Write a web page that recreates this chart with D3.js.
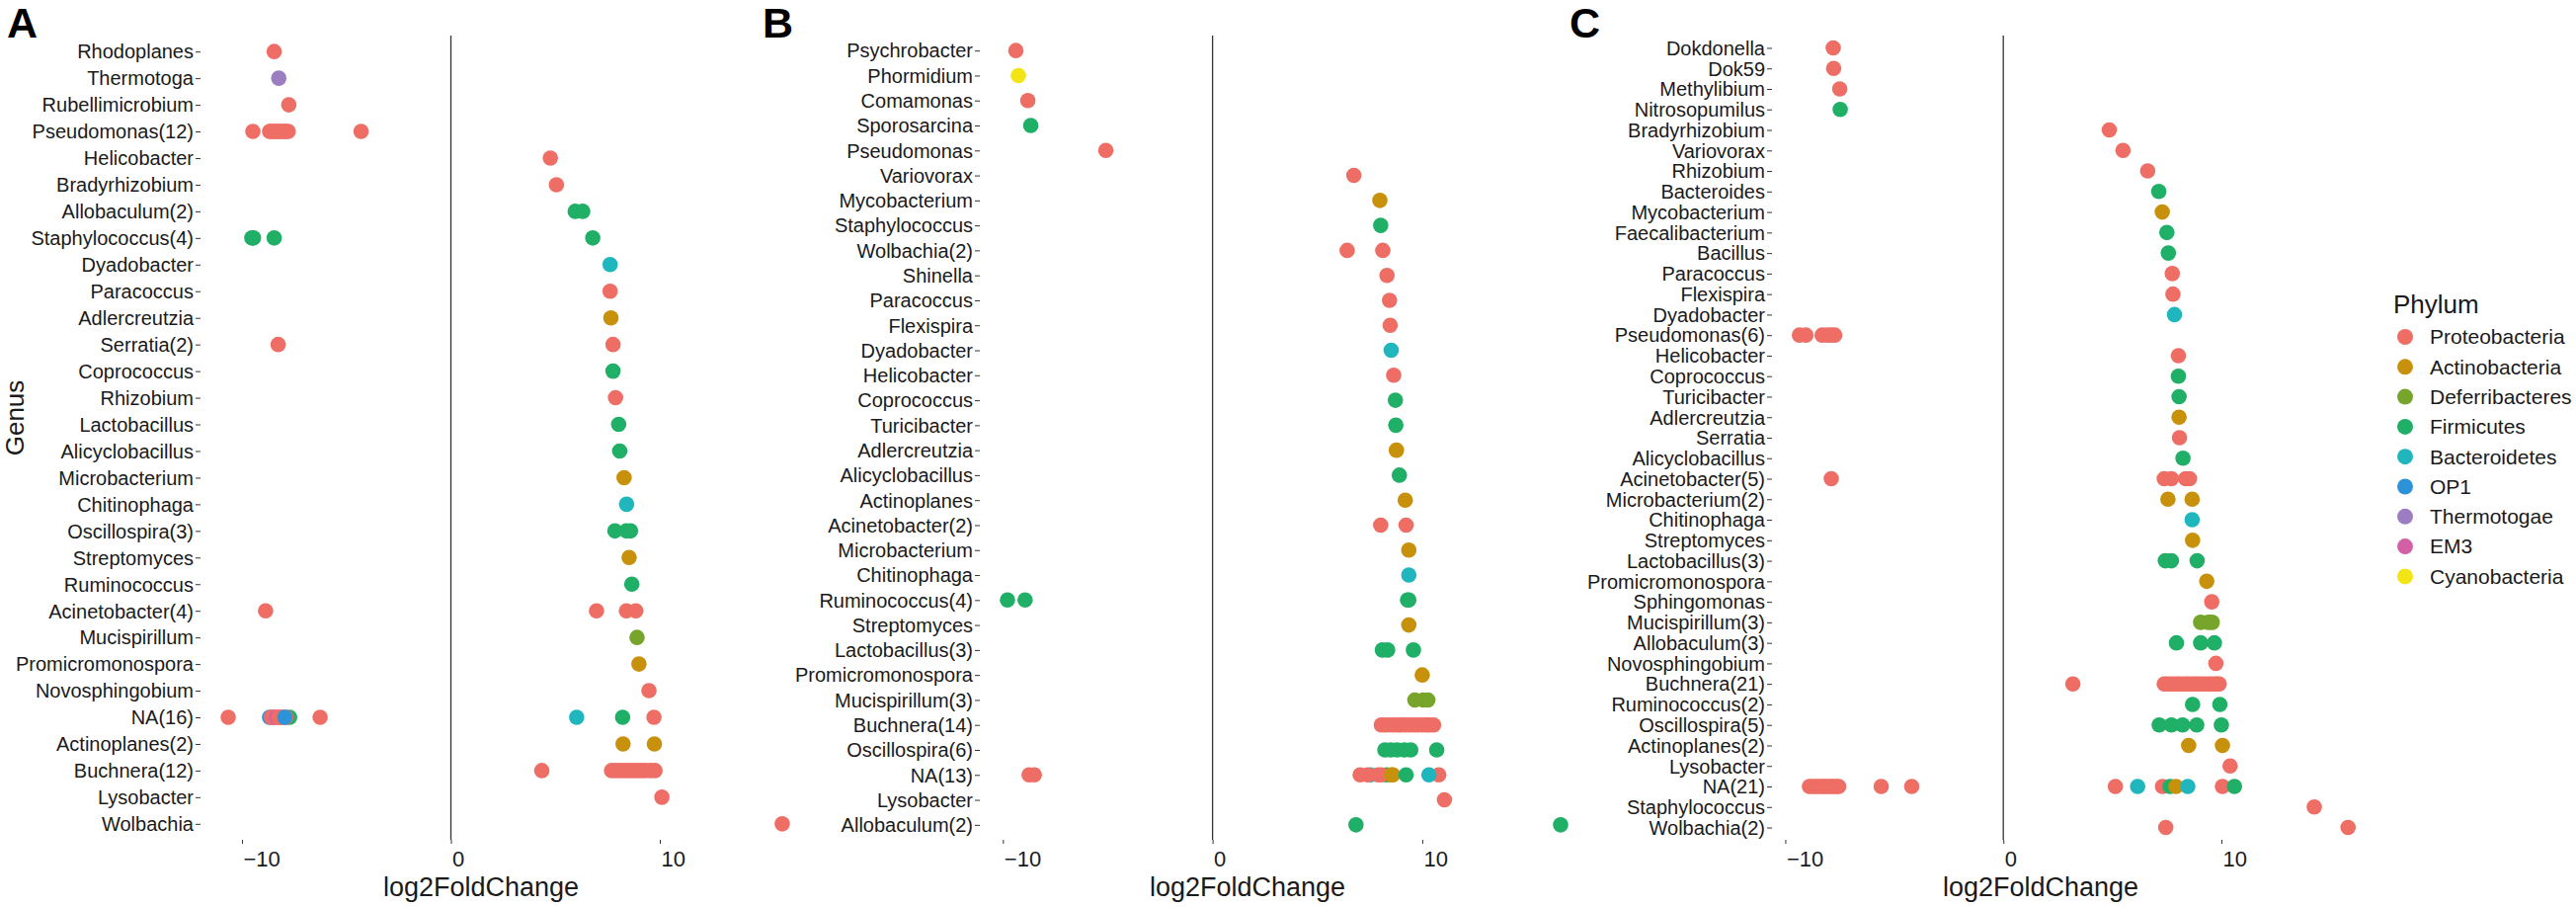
<!DOCTYPE html>
<html>
<head>
<meta charset="utf-8">
<script src="https://cdn.jsdelivr.net/npm/d3@7"></script>
<style>
body { margin: 0; background: #fff; }
text { font-family: "Liberation Sans", Arial, sans-serif; fill: #1a1a1a; }
</style>
</head>
<body>
<svg width="2608" height="918"></svg>
<script>
// phylum legend
var phyla = ["Proteobacteria", "Actinobacteria", "Deferribacteres", "Firmicutes", "Bacteroidetes", "OP1", "Thermotogae", "EM3", "Cyanobacteria"];
var phylumCodes = ["Pro", "Act", "Def", "Fir", "Bac", "OP1", "The", "EM3", "Cya"];
var phylumColors = ["#ee6e66", "#c8910c", "#77a52b", "#20af66", "#20b6be", "#2d93d9", "#9d7dc1", "#d35fa5", "#f2e415"];

var xTicks = [-10, 0, 10];

// panel A
var genusA = ["Rhodoplanes", "Thermotoga", "Rubellimicrobium", "Pseudomonas(12)", "Helicobacter", "Bradyrhizobium",
	"Allobaculum(2)", "Staphylococcus(4)", "Dyadobacter", "Paracoccus", "Adlercreutzia", "Serratia(2)", "Coprococcus",
	"Rhizobium", "Lactobacillus", "Alicyclobacillus", "Microbacterium", "Chitinophaga", "Oscillospira(3)", "Streptomyces",
	"Ruminococcus", "Acinetobacter(4)", "Mucispirillum", "Promicromonospora", "Novosphingobium", "NA(16)",
	"Actinoplanes(2)", "Buchnera(12)", "Lysobacter", "Wolbachia"];
var pointsA = [
	["Rhodoplanes", "Pro", -8.46], ["Thermotoga", "The", -8.24], ["Rubellimicrobium", "Pro", -7.76],
	["Pseudomonas(12)", "Pro", -9.48], ["Pseudomonas(12)", "Pro", -8.68], ["Pseudomonas(12)", "Pro", -8.6],
	["Pseudomonas(12)", "Pro", -8.5], ["Pseudomonas(12)", "Pro", -8.4], ["Pseudomonas(12)", "Pro", -8.3],
	["Pseudomonas(12)", "Pro", -8.2], ["Pseudomonas(12)", "Pro", -8.1], ["Pseudomonas(12)", "Pro", -8.0],
	["Pseudomonas(12)", "Pro", -7.9], ["Pseudomonas(12)", "Pro", -7.79], ["Pseudomonas(12)", "Pro", -4.3],
	["Helicobacter", "Pro", 4.76], ["Bradyrhizobium", "Pro", 5.05],
	["Allobaculum(2)", "Fir", 5.95], ["Allobaculum(2)", "Fir", 6.31],
	["Staphylococcus(4)", "Fir", -9.53], ["Staphylococcus(4)", "Fir", -9.45], ["Staphylococcus(4)", "Fir", -8.46], ["Staphylococcus(4)", "Fir", 6.79],
	["Dyadobacter", "Bac", 7.62], ["Paracoccus", "Pro", 7.62], ["Adlercreutzia", "Act", 7.66],
	["Serratia(2)", "Pro", -8.27], ["Serratia(2)", "Pro", 7.76],
	["Coprococcus", "Fir", 7.76], ["Rhizobium", "Pro", 7.88], ["Lactobacillus", "Fir", 8.03], ["Alicyclobacillus", "Fir", 8.08],
	["Microbacterium", "Act", 8.29], ["Chitinophaga", "Bac", 8.41],
	["Oscillospira(3)", "Fir", 7.85], ["Oscillospira(3)", "Fir", 8.4], ["Oscillospira(3)", "Fir", 8.6],
	["Streptomyces", "Act", 8.53], ["Ruminococcus", "Fir", 8.66],
	["Acinetobacter(4)", "Pro", -8.87], ["Acinetobacter(4)", "Pro", 6.97], ["Acinetobacter(4)", "Pro", 8.4], ["Acinetobacter(4)", "Pro", 8.85],
	["Mucispirillum", "Def", 8.91], ["Promicromonospora", "Act", 9.0], ["Novosphingobium", "Pro", 9.48],
	["NA(16)", "Pro", -10.66], ["NA(16)", "OP1", -8.68], ["NA(16)", "Pro", -8.6], ["NA(16)", "Pro", -8.55],
	["NA(16)", "Pro", -8.45], ["NA(16)", "EM3", -8.35], ["NA(16)", "Pro", -8.25], ["NA(16)", "Pro", -8.15],
	["NA(16)", "Pro", -8.05], ["NA(16)", "Fir", -7.72], ["NA(16)", "Pro", -7.9], ["NA(16)", "OP1", -7.95],
	["NA(16)", "Pro", -6.26], ["NA(16)", "Bac", 6.02], ["NA(16)", "Fir", 8.22], ["NA(16)", "Pro", 9.72],
	["Actinoplanes(2)", "Act", 8.24], ["Actinoplanes(2)", "Act", 9.74],
	["Buchnera(12)", "Pro", 4.35], ["Buchnera(12)", "Pro", 7.69], ["Buchnera(12)", "Pro", 7.9], ["Buchnera(12)", "Pro", 8.1],
	["Buchnera(12)", "Pro", 8.3], ["Buchnera(12)", "Pro", 8.5], ["Buchnera(12)", "Pro", 8.7], ["Buchnera(12)", "Pro", 8.9],
	["Buchnera(12)", "Pro", 9.1], ["Buchnera(12)", "Pro", 9.3], ["Buchnera(12)", "Pro", 9.55], ["Buchnera(12)", "Pro", 9.77],
	["Lysobacter", "Pro", 10.1], ["Wolbachia", "Pro", 15.86]
];

// panel B
var genusB = ["Psychrobacter", "Phormidium", "Comamonas", "Sporosarcina", "Pseudomonas", "Variovorax", "Mycobacterium",
	"Staphylococcus", "Wolbachia(2)", "Shinella", "Paracoccus", "Flexispira", "Dyadobacter", "Helicobacter", "Coprococcus",
	"Turicibacter", "Adlercreutzia", "Alicyclobacillus", "Actinoplanes", "Acinetobacter(2)", "Microbacterium", "Chitinophaga",
	"Ruminococcus(4)", "Streptomyces", "Lactobacillus(3)", "Promicromonospora", "Mucispirillum(3)", "Buchnera(14)",
	"Oscillospira(6)", "NA(13)", "Lysobacter", "Allobaculum(2)"];
var pointsB = [
	["Psychrobacter", "Pro", -9.38], ["Phormidium", "Cya", -9.26], ["Comamonas", "Pro", -8.81], ["Sporosarcina", "Fir", -8.67],
	["Pseudomonas", "Pro", -5.09], ["Variovorax", "Pro", 6.74], ["Mycobacterium", "Act", 7.98], ["Staphylococcus", "Fir", 8.02],
	["Wolbachia(2)", "Pro", 6.42], ["Wolbachia(2)", "Pro", 8.12],
	["Shinella", "Pro", 8.32], ["Paracoccus", "Pro", 8.44], ["Flexispira", "Pro", 8.47], ["Dyadobacter", "Bac", 8.52],
	["Helicobacter", "Pro", 8.64], ["Coprococcus", "Fir", 8.72], ["Turicibacter", "Fir", 8.74], ["Adlercreutzia", "Act", 8.77],
	["Alicyclobacillus", "Fir", 8.91], ["Actinoplanes", "Act", 9.19],
	["Acinetobacter(2)", "Pro", 8.02], ["Acinetobacter(2)", "Pro", 9.23],
	["Microbacterium", "Act", 9.36], ["Chitinophaga", "Bac", 9.36],
	["Ruminococcus(4)", "Fir", -9.78], ["Ruminococcus(4)", "Fir", -8.94], ["Ruminococcus(4)", "Fir", 9.3], ["Ruminococcus(4)", "Fir", 9.36],
	["Streptomyces", "Act", 9.36],
	["Lactobacillus(3)", "Fir", 8.1], ["Lactobacillus(3)", "Fir", 8.35], ["Lactobacillus(3)", "Fir", 9.58],
	["Promicromonospora", "Act", 10.0],
	["Mucispirillum(3)", "Def", 9.65], ["Mucispirillum(3)", "Def", 10.05], ["Mucispirillum(3)", "Def", 10.27],
	["Buchnera(14)", "Pro", 8.05], ["Buchnera(14)", "Pro", 8.25], ["Buchnera(14)", "Pro", 8.45], ["Buchnera(14)", "Pro", 8.65],
	["Buchnera(14)", "Pro", 8.85], ["Buchnera(14)", "Pro", 9.0], ["Buchnera(14)", "Pro", 9.2], ["Buchnera(14)", "Pro", 9.4],
	["Buchnera(14)", "Pro", 9.6], ["Buchnera(14)", "Pro", 9.8], ["Buchnera(14)", "Pro", 10.0], ["Buchnera(14)", "Pro", 10.2],
	["Buchnera(14)", "Pro", 10.35], ["Buchnera(14)", "Pro", 10.54],
	["Oscillospira(6)", "Fir", 8.22], ["Oscillospira(6)", "Fir", 8.5], ["Oscillospira(6)", "Fir", 8.8],
	["Oscillospira(6)", "Fir", 9.15], ["Oscillospira(6)", "Fir", 9.45], ["Oscillospira(6)", "Fir", 10.69],
	["NA(13)", "Pro", -8.75], ["NA(13)", "Pro", -8.5], ["NA(13)", "Pro", 7.04], ["NA(13)", "Bac", 7.53],
	["NA(13)", "Pro", 7.4], ["NA(13)", "Pro", 7.9], ["NA(13)", "Fir", 8.3], ["NA(13)", "Pro", 8.05],
	["NA(13)", "Act", 8.52], ["NA(13)", "Act", 8.6], ["NA(13)", "Fir", 9.23], ["NA(13)", "Pro", 10.79], ["NA(13)", "Bac", 10.32],
	["Lysobacter", "Pro", 11.06],
	["Allobaculum(2)", "Fir", 6.84], ["Allobaculum(2)", "Fir", 16.6]
];

// panel C
var genusC = ["Dokdonella", "Dok59", "Methylibium", "Nitrosopumilus", "Bradyrhizobium", "Variovorax", "Rhizobium",
	"Bacteroides", "Mycobacterium", "Faecalibacterium", "Bacillus", "Paracoccus", "Flexispira", "Dyadobacter",
	"Pseudomonas(6)", "Helicobacter", "Coprococcus", "Turicibacter", "Adlercreutzia", "Serratia", "Alicyclobacillus",
	"Acinetobacter(5)", "Microbacterium(2)", "Chitinophaga", "Streptomyces", "Lactobacillus(3)", "Promicromonospora",
	"Sphingomonas", "Mucispirillum(3)", "Allobaculum(3)", "Novosphingobium", "Buchnera(21)", "Ruminococcus(2)",
	"Oscillospira(5)", "Actinoplanes(2)", "Lysobacter", "NA(21)", "Staphylococcus", "Wolbachia(2)"];
var pointsC = [
	["Dokdonella", "Pro", -7.8], ["Dok59", "Pro", -7.78], ["Methylibium", "Pro", -7.5], ["Nitrosopumilus", "Fir", -7.48],
	["Bradyrhizobium", "Pro", 4.86], ["Variovorax", "Pro", 5.49], ["Rhizobium", "Pro", 6.62], ["Bacteroides", "Fir", 7.13],
	["Mycobacterium", "Act", 7.29], ["Faecalibacterium", "Fir", 7.5], ["Bacillus", "Fir", 7.57], ["Paracoccus", "Pro", 7.75],
	["Flexispira", "Pro", 7.78], ["Dyadobacter", "Bac", 7.85],
	["Pseudomonas(6)", "Pro", -9.35], ["Pseudomonas(6)", "Pro", -9.05], ["Pseudomonas(6)", "Pro", -8.31],
	["Pseudomonas(6)", "Pro", -8.08], ["Pseudomonas(6)", "Pro", -7.9], ["Pseudomonas(6)", "Pro", -7.73],
	["Helicobacter", "Pro", 8.03], ["Coprococcus", "Fir", 8.03], ["Turicibacter", "Fir", 8.06], ["Adlercreutzia", "Act", 8.06],
	["Serratia", "Pro", 8.08], ["Alicyclobacillus", "Fir", 8.24],
	["Acinetobacter(5)", "Pro", -7.89], ["Acinetobacter(5)", "Pro", 7.38], ["Acinetobacter(5)", "Pro", 7.71],
	["Acinetobacter(5)", "Pro", 8.36], ["Acinetobacter(5)", "Pro", 8.54],
	["Microbacterium(2)", "Act", 7.55], ["Microbacterium(2)", "Act", 8.66],
	["Chitinophaga", "Bac", 8.66], ["Streptomyces", "Act", 8.68],
	["Lactobacillus(3)", "Fir", 7.43], ["Lactobacillus(3)", "Fir", 7.71], ["Lactobacillus(3)", "Fir", 8.89],
	["Promicromonospora", "Act", 9.33], ["Sphingomonas", "Pro", 9.56],
	["Mucispirillum(3)", "Def", 9.05], ["Mucispirillum(3)", "Def", 9.4], ["Mucispirillum(3)", "Def", 9.58],
	["Allobaculum(3)", "Fir", 7.94], ["Allobaculum(3)", "Fir", 9.05], ["Allobaculum(3)", "Fir", 9.68],
	["Novosphingobium", "Pro", 9.75],
	["Buchnera(21)", "Pro", 3.19], ["Buchnera(21)", "Pro", 7.38], ["Buchnera(21)", "Pro", 7.5], ["Buchnera(21)", "Pro", 7.65],
	["Buchnera(21)", "Pro", 7.8], ["Buchnera(21)", "Pro", 7.95], ["Buchnera(21)", "Pro", 8.05], ["Buchnera(21)", "Pro", 8.2],
	["Buchnera(21)", "Pro", 8.35], ["Buchnera(21)", "Pro", 8.45], ["Buchnera(21)", "Pro", 8.6], ["Buchnera(21)", "Pro", 8.75],
	["Buchnera(21)", "Pro", 8.85], ["Buchnera(21)", "Pro", 9.0], ["Buchnera(21)", "Pro", 9.15], ["Buchnera(21)", "Pro", 9.3],
	["Buchnera(21)", "Pro", 9.45], ["Buchnera(21)", "Pro", 9.55], ["Buchnera(21)", "Pro", 9.7], ["Buchnera(21)", "Pro", 9.8],
	["Buchnera(21)", "Pro", 9.9],
	["Ruminococcus(2)", "Fir", 8.68], ["Ruminococcus(2)", "Fir", 9.93],
	["Oscillospira(5)", "Fir", 7.15], ["Oscillospira(5)", "Fir", 7.71], ["Oscillospira(5)", "Fir", 8.22],
	["Oscillospira(5)", "Fir", 8.87], ["Oscillospira(5)", "Fir", 10.0],
	["Actinoplanes(2)", "Act", 8.5], ["Actinoplanes(2)", "Act", 10.05],
	["Lysobacter", "Pro", 10.4],
	["NA(21)", "Pro", -8.89], ["NA(21)", "Pro", -8.75], ["NA(21)", "Pro", -8.6], ["NA(21)", "Pro", -8.45],
	["NA(21)", "Pro", -8.3], ["NA(21)", "Pro", -8.2], ["NA(21)", "Pro", -8.05], ["NA(21)", "Pro", -7.9],
	["NA(21)", "Pro", -7.8], ["NA(21)", "Pro", -7.65], ["NA(21)", "Pro", -7.55], ["NA(21)", "Pro", -5.6],
	["NA(21)", "Pro", -4.2], ["NA(21)", "Pro", 5.14], ["NA(21)", "Bac", 6.16], ["NA(21)", "Pro", 7.3],
	["NA(21)", "Fir", 7.65], ["NA(21)", "Act", 7.92], ["NA(21)", "Bac", 8.46], ["NA(21)", "Pro", 10.05], ["NA(21)", "Fir", 10.6],
	["Staphylococcus", "Pro", 14.26],
	["Wolbachia(2)", "Pro", 7.45], ["Wolbachia(2)", "Pro", 15.81]
];

var svg = d3.select("svg");
var color = d3.scaleOrdinal(phylumCodes, phylumColors);

var plotTop = 36, plotBottom = 850;
var dotR = 7.8;

function drawPanel(letter, genus, points, left, right, letterX, titleX, yTitle) {
	var ext = d3.extent(points, function(d) { return d[2]; });
	var pad = (ext[1] - ext[0]) * 0.05;
	var x = d3.scaleLinear().domain([ext[0] - pad, ext[1] + pad]).range([left, right]);
	var y = d3.scalePoint().domain(genus).range([plotTop, plotBottom]).padding(0.6);

	var g = svg.append("g");

	//zero line
	g.append("line")
		.attr("x1", x(0)).attr("x2", x(0))
		.attr("y1", plotTop).attr("y2", plotBottom)
		.attr("stroke", "#333").attr("stroke-width", 1.3);

	//y axis, ticks only
	var yAxis = g.append("g")
		.attr("transform", "translate(" + left + ",0)")
		.call(d3.axisLeft(y).tickSize(5).tickPadding(2));
	yAxis.select(".domain").remove();
	yAxis.attr("font-family", null).attr("font-size", null);
	yAxis.selectAll("line").attr("stroke", "#333");
	yAxis.selectAll("text")
		.attr("font-size", 20)
		.attr("dy", "0.34em");

	//x axis, labels sit to the right of their tick
	var xAxis = g.append("g")
		.attr("transform", "translate(0," + plotBottom + ")")
		.call(d3.axisBottom(x).tickValues(xTicks).tickSize(4));
	xAxis.select(".domain").remove();
	xAxis.attr("font-family", null).attr("font-size", null);
	xAxis.selectAll("line").attr("stroke", "#333");
	xAxis.selectAll("text")
		.attr("font-size", 22)
		.attr("text-anchor", "start")
		.attr("x", 1)
		.attr("y", 27)
		.attr("dy", 0);

	//points
	g.selectAll("circle.pt")
		.data(points)
		.enter().append("circle")
			.attr("class", "pt")
			.attr("cx", function(d) { return x(d[2]); })
			.attr("cy", function(d) { return y(d[0]); })
			.attr("r", dotR)
			.style("fill", function(d) { return color(d[1]); });

	g.append("text")
		.attr("x", titleX).attr("y", 907)
		.attr("text-anchor", "middle")
		.attr("font-size", 27)
		.text("log2FoldChange");

	g.append("text")
		.attr("x", letterX).attr("y", 38)
		.attr("font-size", 43)
		.attr("font-weight", "bold")
		.style("fill", "#000")
		.text(letter);

	if (yTitle) {
		g.append("text")
			.attr("transform", "translate(24,423) rotate(-90)")
			.attr("text-anchor", "middle")
			.attr("font-size", 26)
			.text(yTitle);
	}
}

drawPanel("A", genusA, pointsA, 203, 820, 7, 487, "Genus");
drawPanel("B", genusB, pointsB, 992, 1608, 772, 1263, null);
drawPanel("C", genusC, pointsC, 1794, 2405, 1589, 2066, null);

//legend
var legend = svg.append("g").attr("transform", "translate(2423,0)");
legend.append("text")
	.attr("x", 0).attr("y", 317)
	.attr("font-size", 26)
	.text("Phylum");

var item = legend.selectAll("g.item")
	.data(phyla)
	.enter().append("g")
		.attr("class", "item")
		.attr("transform", function(d, i) { return "translate(0," + (341 + i * 30.3) + ")"; });

item.append("circle")
	.attr("cx", 12).attr("r", 8)
	.style("fill", function(d, i) { return phylumColors[i]; });

item.append("text")
	.attr("x", 37).attr("dy", "0.35em")
	.attr("font-size", 21)
	.text(function(d) { return d; });
</script>
</body>
</html>
